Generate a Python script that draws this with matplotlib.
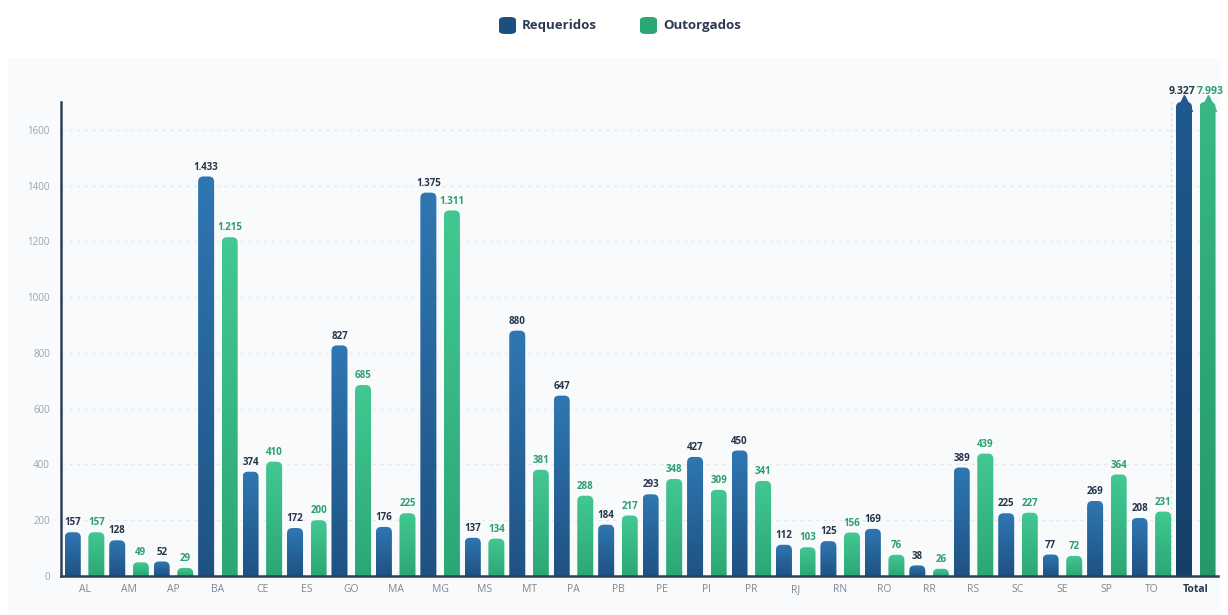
import numpy as np
import matplotlib
matplotlib.use("Agg")
import matplotlib.pyplot as plt
from matplotlib.patches import FancyBboxPatch, Rectangle
from matplotlib.colors import LinearSegmentedColormap

plt.rcParams['font.family'] = ['Open Sans', 'DejaVu Sans']

# ---------------------------------------------------------------------------
# Data
# ---------------------------------------------------------------------------
estados = ["AL", "AM", "AP", "BA", "CE", "ES", "GO", "MA", "MG", "MS", "MT",
           "PA", "PB", "PE", "PI", "PR", "RJ", "RN", "RO", "RR", "RS", "SC",
           "SE", "SP", "TO", "Total"]
requeridos = [157, 128, 52, 1433, 374, 172, 827, 176, 1375, 137, 880,
              647, 184, 293, 427, 450, 112, 125, 169, 38, 389, 225,
              77, 269, 208, 9327]
outorgados = [157, 49, 29, 1215, 410, 200, 685, 225, 1311, 134, 381,
              288, 217, 348, 309, 341, 103, 156, 76, 26, 439, 227,
              72, 364, 231, 7993]
y_ticks = [0, 200, 400, 600, 800, 1000, 1200, 1400, 1600]

Y_MAX = 1700
BAR_W = 0.36
OFFSET = 0.265

BLUE_TOP, BLUE_BOT = "#2f77b2", "#1f5283"
GREEN_TOP, GREEN_BOT = "#43c892", "#2ba775"
TOT_BLUE_TOP, TOT_BLUE_BOT = "#1f5a8f", "#153f68"
TOT_GREEN_TOP, TOT_GREEN_BOT = "#37b883", "#25996a"
LABEL_DARK = "#26364a"
LABEL_GREEN = "#2e9e6e"


def fmt(v):
    return f"{v:,}".replace(",", ".")


W, H = 1228, 615
fig = plt.figure(figsize=(W / 100, H / 100), dpi=100, facecolor="white")

# light panel behind the chart
fig.patches.append(Rectangle((8 / W, 0), 1 - 16 / W, 1 - 58 / H,
                             transform=fig.transFigure, facecolor="#f8fafc",
                             edgecolor="none", zorder=-5))

ax_l, ax_r, ax_b, ax_t = 61, 1218, 576, 102
ax = fig.add_axes([ax_l / W, 1 - ax_b / H, (ax_r - ax_l) / W, (ax_b - ax_t) / H])
ax.set_facecolor("none")

x = np.arange(len(estados))
ax.set_xlim(-0.53, len(estados) - 0.5)
ax.set_ylim(0, Y_MAX)

# pixels per data unit, used to keep the bar corners round
px_x = (ax_r - ax_l) / (ax.get_xlim()[1] - ax.get_xlim()[0])
px_y = (ax_b - ax_t) / Y_MAX
aspect = px_x / px_y


def gradient_bar(xc, h, top, bot):
    left = xc - BAR_W / 2
    r = 0.12
    patch = FancyBboxPatch((left, -r * aspect * 2), BAR_W, h + r * aspect * 2,
                           boxstyle=f"round,pad=0,rounding_size={r}",
                           mutation_aspect=aspect, facecolor="none",
                           edgecolor="none", zorder=2)
    ax.add_patch(patch)
    cmap = LinearSegmentedColormap.from_list("g", [bot, top])
    grad = np.linspace(0, 1, 128).reshape(-1, 1)
    im = ax.imshow(grad, cmap=cmap, origin="lower", aspect="auto",
                   extent=(left, left + BAR_W, 0, min(h, Y_MAX)), zorder=2)
    im.set_clip_path(patch)


for i, (r_val, o_val) in enumerate(zip(requeridos, outorgados)):
    total = estados[i] == "Total"
    xb, xg = x[i] - OFFSET, x[i] + OFFSET
    if total:
        gradient_bar(xb, Y_MAX, TOT_BLUE_TOP, TOT_BLUE_BOT)
        gradient_bar(xg, Y_MAX, TOT_GREEN_TOP, TOT_GREEN_BOT)
        ax.plot([xb], [Y_MAX - 5], marker="^", ms=11, color=TOT_BLUE_TOP,
                clip_on=False, zorder=3)
        ax.plot([xg], [Y_MAX - 5], marker="^", ms=11, color=TOT_GREEN_TOP,
                clip_on=False, zorder=3)
        ax.text(xb - 0.05, Y_MAX + 18, fmt(r_val), ha="center", va="bottom",
                fontsize=7.5, fontweight="bold", color=LABEL_DARK, zorder=4)
        ax.text(xg + 0.05, Y_MAX + 18, fmt(o_val), ha="center", va="bottom",
                fontsize=7.5, fontweight="bold", color=LABEL_GREEN, zorder=4)
    else:
        gradient_bar(xb, r_val, BLUE_TOP, BLUE_BOT)
        gradient_bar(xg, o_val, GREEN_TOP, GREEN_BOT)
        ax.text(xb, r_val + 14, fmt(r_val), ha="center", va="bottom",
                fontsize=7, fontweight="bold", color=LABEL_DARK, zorder=4)
        ax.text(xg, o_val + 14, fmt(o_val), ha="center", va="bottom",
                fontsize=7, fontweight="bold", color=LABEL_GREEN, zorder=4)

# faint dashed separator before the total column
ax.axvline(len(estados) - 1.55, color="#cfd8e0", lw=0.8, ls=(0, (2, 3)), zorder=1)

# axes styling
ax.set_yticks(y_ticks)
ax.set_yticklabels([str(v) for v in y_ticks], fontsize=7, color="#9aa3ad")
ax.set_xticks(x)
ax.set_xticklabels(estados, fontsize=7.5, color="#7d8893")
ax.get_xticklabels()[-1].set_fontweight("bold")
ax.get_xticklabels()[-1].set_color(LABEL_DARK)
ax.tick_params(axis="both", length=0, pad=8)
ax.tick_params(axis="x", pad=6)
ax.grid(axis="y", color="#e3e8ed", lw=0.8, ls=(0, (3, 4)), zorder=0)
ax.set_axisbelow(True)
for side in ("top", "right"):
    ax.spines[side].set_visible(False)
ax.spines["left"].set_color("#2e4254")
ax.spines["left"].set_linewidth(1.8)
ax.spines["bottom"].set_color("#2e4254")
ax.spines["bottom"].set_linewidth(1.8)

# legend
for xc, label, col in [(522, "Requeridos", "#1a4f7e"), (663, "Outorgados", "#2aa872")]:
    fig.patches.append(FancyBboxPatch(((xc - 23) / W, 1 - 34 / H), 17 / W, 17 / H,
                                      boxstyle="round,pad=0,rounding_size=0.005",
                                      transform=fig.transFigure, facecolor=col,
                                      edgecolor="none"))
    fig.text(xc / W, 1 - 25.5 / H, label, ha="left", va="center",
             fontsize=9.5, fontweight="bold", color="#2b3a4e")

fig.savefig("out.png", dpi=100, facecolor="white")
